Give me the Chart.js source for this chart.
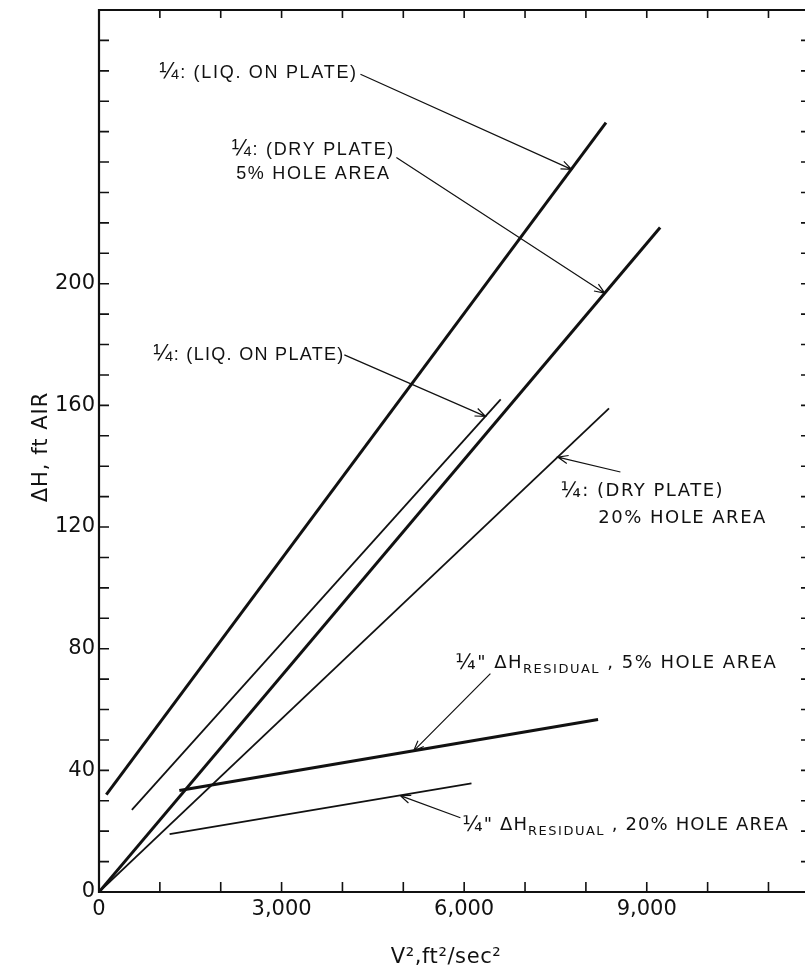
<!DOCTYPE html>
<html lang="en">
<head>
  <meta charset="UTF-8">
  <title>Tray pressure drop vs V²</title>
  <script src="https://cdn.jsdelivr.net/npm/chart.js"></script>
  <style>
    body { margin: 0; background: #fff; }
    #wrap { width: 805px; height: 973px; position: relative; }
  </style>
</head>
<body>
  <div id="wrap"><canvas id="chart"></canvas></div>

  <script>
    // x = V², ft²/sec²   y = ΔH, ft air
    const liqPlate5X = [120, 8330];
    const liqPlate5Y = [32, 253];
    const dryPlate5X = [0, 9220];
    const dryPlate5Y = [0, 218.5];
    const liqPlate20X = [540, 6600];
    const liqPlate20Y = [27, 162];
    const dryPlate20X = [0, 8380];
    const dryPlate20Y = [0, 159];
    const resid5X = [1320, 8200];
    const resid5Y = [33.4, 56.7];
    const resid20X = [1160, 6120];
    const resid20Y = [19, 35.7];

    // tick marks every 1000 / every 10, labels only on some of them
    const xTicks = [0, 1000, 2000, 3000, 4000, 5000, 6000, 7000, 8000, 9000, 10000, 11000];
    const xLabelTicks = [0, 3000, 6000, 9000];
    const yTicks = [0, 10, 20, 30, 40, 50, 60, 70, 80, 90, 100, 110, 120, 130, 140,
      150, 160, 170, 180, 190, 200, 210, 220, 230, 240, 250, 260, 270, 280];
    const yLabelTicks = [0, 40, 80, 120, 160, 200];

    const INK = '#111';
    const narrow = { font: '18px "Liberation Sans"', frac: '23px "Liberation Sans"', spacing: 1.3 };
    const narrowWide = { font: '18px "Liberation Sans"', frac: '23px "Liberation Sans"', spacing: 1.7 };
    const wide = { font: '18px "DejaVu Sans"', frac: '21px "DejaVu Sans"', spacing: 1.5 };
    const wideTight = { font: '18px "DejaVu Sans"', frac: '21px "DejaVu Sans"', spacing: 1.1 };
    const sub = { font: '13px "DejaVu Sans"', spacing: 1.5 };

    // callouts: text anchor, leader start and arrow tip, all in data units
    const notes = [
      { style: narrowWide, align: 'left', lines: [[{ t: '¼', frac: true }, { t: ': (LIQ. ON PLATE)' }]],
        at: [[991, 269.8]], from: [4296, 268.9], to: [7763, 237.6] },
      { style: narrowWide, align: 'center', lines: [[{ t: '¼', frac: true }, { t: ': (DRY PLATE)' }], [{ t: '5% HOLE AREA' }]],
        at: [[3522, 244.5], [3522, 236.6]], from: [4886, 241.5], to: [8310, 196.9] },
      { style: narrow, align: 'left', lines: [[{ t: '¼', frac: true }, { t: ': (LIQ. ON PLATE)' }]],
        at: [[892, 176.9]], from: [4031, 176.6], to: [6350, 156.4] },
      { style: wide, align: 'left', lines: [[{ t: '¼', frac: true }, { t: ': (DRY PLATE)' }], [{ t: '20% HOLE AREA' }]],
        at: [[7581, 132.5], [8203, 123.6]], from: [8567, 138.1], to: [7538, 143] },
      { style: wide, align: 'left', lines: [[{ t: '¼', frac: true }, { t: '" ΔH' }, { t: 'RESIDUAL', sub: true }, { t: ' , 5% HOLE AREA' }]],
        at: [[5855, 75.9]], from: [6431, 71.8], to: [5170, 46.4] },
      { style: wideTight, align: 'left', lines: [[{ t: '¼', frac: true }, { t: '" ΔH' }, { t: 'RESIDUAL', sub: true }, { t: ' , 20% HOLE AREA' }]],
        at: [[5970, 22.6]], from: [5938, 24.4], to: [4950, 31.7] }
    ];

    function pts(xs, ys) {
      return xs.map((x, i) => ({ x: x, y: ys[i] }));
    }

    function line(label, xs, ys, width) {
      return {
        label: label,
        data: pts(xs, ys),
        showLine: true,
        borderColor: INK,
        borderWidth: width,
        pointRadius: 0,
        fill: false
      };
    }

    function setFont(ctx, font, spacing) {
      ctx.font = font;
      try { ctx.letterSpacing = spacing + 'px'; } catch (e) {}
    }

    function useSeg(ctx, seg, st) {
      if (seg.sub) setFont(ctx, sub.font, sub.spacing);
      else if (seg.frac) setFont(ctx, st.frac, st.spacing);
      else setFont(ctx, st.font, st.spacing);
      return ctx.measureText(seg.t).width;
    }

    function drawArrow(ctx, x0, y0, x1, y1) {
      ctx.beginPath();
      ctx.moveTo(x0, y0);
      ctx.lineTo(x1, y1);
      const ang = Math.atan2(y1 - y0, x1 - x0);
      const len = 11, spread = 0.38;
      ctx.moveTo(x1 - len * Math.cos(ang - spread), y1 - len * Math.sin(ang - spread));
      ctx.lineTo(x1, y1);
      ctx.lineTo(x1 - len * Math.cos(ang + spread), y1 - len * Math.sin(ang + spread));
      ctx.stroke();
    }

    const framePlugin = {
      id: 'frame',
      afterDatasetsDraw(chart) {
        const { ctx, chartArea: a, scales: { x, y } } = chart;
        ctx.save();
        ctx.strokeStyle = INK;
        ctx.lineWidth = 2.2;
        ctx.beginPath();
        ctx.moveTo(a.right, a.top);
        ctx.lineTo(a.left, a.top);
        ctx.lineTo(a.left, a.bottom);
        ctx.lineTo(a.right, a.bottom);
        ctx.stroke();

        ctx.lineWidth = 1.6;
        ctx.beginPath();
        x.ticks.forEach(t => {
          if (t.value === 0) return;
          const px = x.getPixelForValue(t.value);
          ctx.moveTo(px, a.bottom);
          ctx.lineTo(px, a.bottom - 10);
          ctx.moveTo(px, a.top);
          ctx.lineTo(px, a.top + 8);
        });
        y.ticks.forEach(t => {
          if (t.value === 0) return;
          const py = y.getPixelForValue(t.value);
          ctx.moveTo(a.left, py);
          ctx.lineTo(a.left + 10, py);
          ctx.moveTo(a.right, py);
          ctx.lineTo(a.right - 4, py);
        });
        ctx.stroke();

        // callouts
        ctx.fillStyle = INK;
        ctx.lineWidth = 1.2;
        ctx.textBaseline = 'alphabetic';
        ctx.textAlign = 'left';
        notes.forEach(n => {
          n.lines.forEach((segs, i) => {
            const ax = x.getPixelForValue(n.at[i][0]);
            const ay = y.getPixelForValue(n.at[i][1]);
            let total = 0;
            segs.forEach(s => { total += useSeg(ctx, s, n.style); });
            let cx = n.align === 'center' ? ax - total / 2 : ax;
            segs.forEach(s => {
              const w = useSeg(ctx, s, n.style);
              ctx.fillText(s.t, cx, ay + 6.5 + (s.sub ? 5 : 0) + (s.frac ? 1 : 0));
              cx += w;
            });
          });
          drawArrow(ctx,
            x.getPixelForValue(n.from[0]), y.getPixelForValue(n.from[1]),
            x.getPixelForValue(n.to[0]), y.getPixelForValue(n.to[1]));
        });

        // axis titles
        setFont(ctx, '21px "DejaVu Sans"', 0.6);
        ctx.textAlign = 'center';
        ctx.textBaseline = 'middle';
        ctx.fillText('V²,ft²/sec²', 446, 958);
        setFont(ctx, '21px "DejaVu Sans"', 1);
        ctx.translate(42, 447);
        ctx.rotate(-Math.PI / 2);
        ctx.fillText('ΔH, ft AIR', 0, 0);
        ctx.restore();
      }
    };

    new Chart(document.getElementById('chart'), {
      type: 'scatter',
      data: {
        datasets: [
          line('1/4: liq. on plate, 5% hole area', liqPlate5X, liqPlate5Y, 3),
          line('1/4: dry plate, 5% hole area', dryPlate5X, dryPlate5Y, 3),
          line('1/4: liq. on plate, 20% hole area', liqPlate20X, liqPlate20Y, 1.8),
          line('1/4: dry plate, 20% hole area', dryPlate20X, dryPlate20Y, 1.8),
          line('1/4" residual, 5% hole area', resid5X, resid5Y, 3),
          line('1/4" residual, 20% hole area', resid20X, resid20Y, 1.8)
        ]
      },
      options: {
        responsive: true,
        maintainAspectRatio: false,
        animation: false,
        layout: { padding: { top: 10, right: 0, left: 0, bottom: 0 } },
        plugins: { legend: { display: false }, tooltip: { enabled: false } },
        scales: {
          x: {
            type: 'linear',
            bounds: 'data',
            min: 0,
            max: 11600,
            afterBuildTicks: s => { s.ticks = xTicks.map(v => ({ value: v })); },
            afterFit: s => { s.height = 81; s.paddingLeft = 0; s.paddingRight = 0; },
            grid: { display: false, drawTicks: false },
            border: { display: false },
            ticks: {
              autoSkip: false,
              maxRotation: 0,
              padding: 5,
              color: INK,
              font: { family: 'DejaVu Sans', size: 21 },
              callback: v => xLabelTicks.includes(v) ? v.toLocaleString('en-US') : ''
            }
          },
          y: {
            type: 'linear',
            bounds: 'data',
            min: 0,
            max: 290,
            afterBuildTicks: s => { s.ticks = yTicks.map(v => ({ value: v })); },
            afterFit: s => { s.width = 99; s.paddingTop = 0; s.paddingBottom = 0; },
            grid: { display: false, drawTicks: false },
            border: { display: false },
            ticks: {
              autoSkip: false,
              padding: 4,
              color: INK,
              font: { family: 'DejaVu Sans', size: 21 },
              callback: v => yLabelTicks.includes(v) ? String(v) : ''
            }
          }
        }
      },
      plugins: [framePlugin]
    });
  </script>
</body>
</html>
